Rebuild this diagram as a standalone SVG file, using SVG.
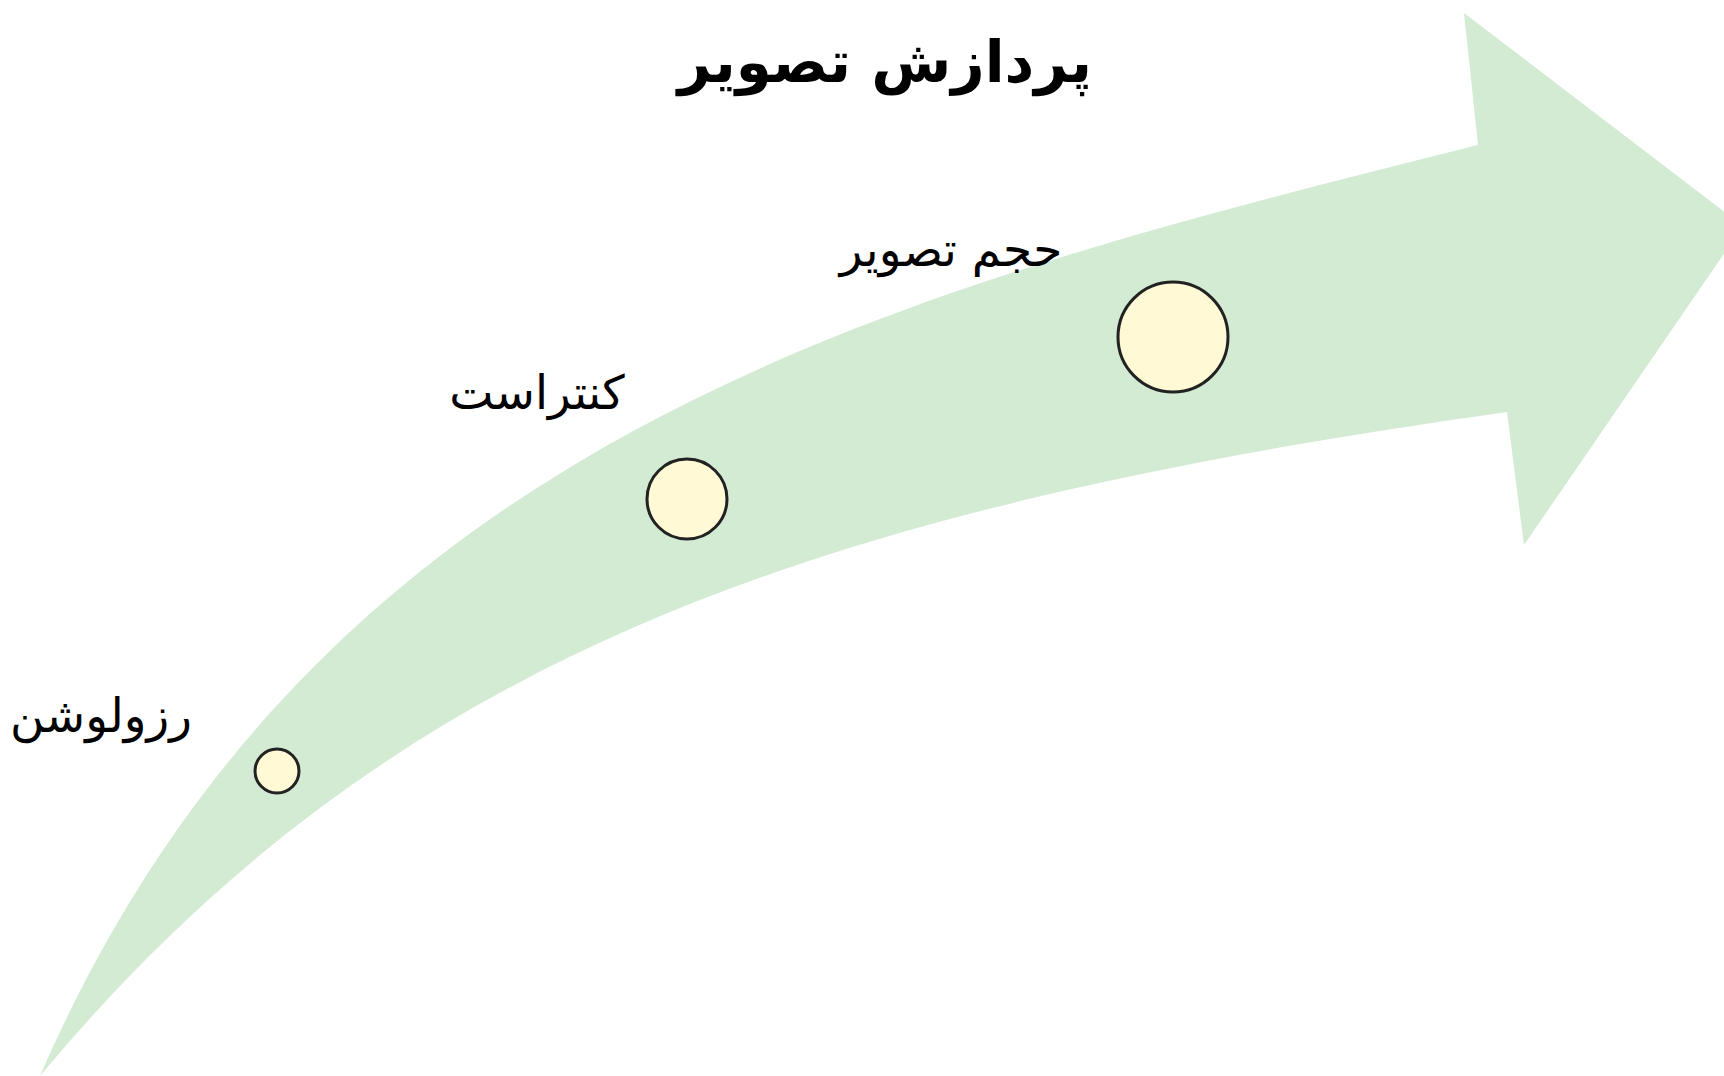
<svg xmlns="http://www.w3.org/2000/svg" width="1724" height="1076" viewBox="0 0 1724 1076">
  <style>
    .band { fill: #d3ebd3; }
    .dot { fill: #fff9d6; stroke: #222222; stroke-width: 3; }
    .label { font-family: "DejaVu Sans", sans-serif; font-size: 47px; fill: #000000; text-anchor: middle; direction: rtl; }
    .title { font-family: "DejaVu Sans", sans-serif; font-size: 58px; font-weight: bold; fill: #000000; text-anchor: middle; direction: rtl; }
  </style>

  <!-- curved rising arrow -->
  <g id="connectors">
    <path id="arrow" class="band" d="M 40,1076
      C 320,432 900,290 1478,145
      L 1464,13 L 1743,226 L 1524,545 L 1507,412
      C 810,510 390,656 40,1076 Z"/>
  </g>

  <g id="title">
    <text class="title" x="885" y="82">پردازش تصویر</text>
  </g>

  <g id="node-resolution">
    <circle class="dot" cx="277" cy="771" r="22"/>
    <text class="label" x="101" y="732">رزولوشن</text>
  </g>

  <g id="node-contrast">
    <circle class="dot" cx="687" cy="499" r="40"/>
    <text class="label" x="537" y="409">کنتراست</text>
  </g>

  <g id="node-size">
    <circle class="dot" cx="1173" cy="337" r="55"/>
    <text class="label" x="951" y="266">حجم تصویر</text>
  </g>
</svg>
